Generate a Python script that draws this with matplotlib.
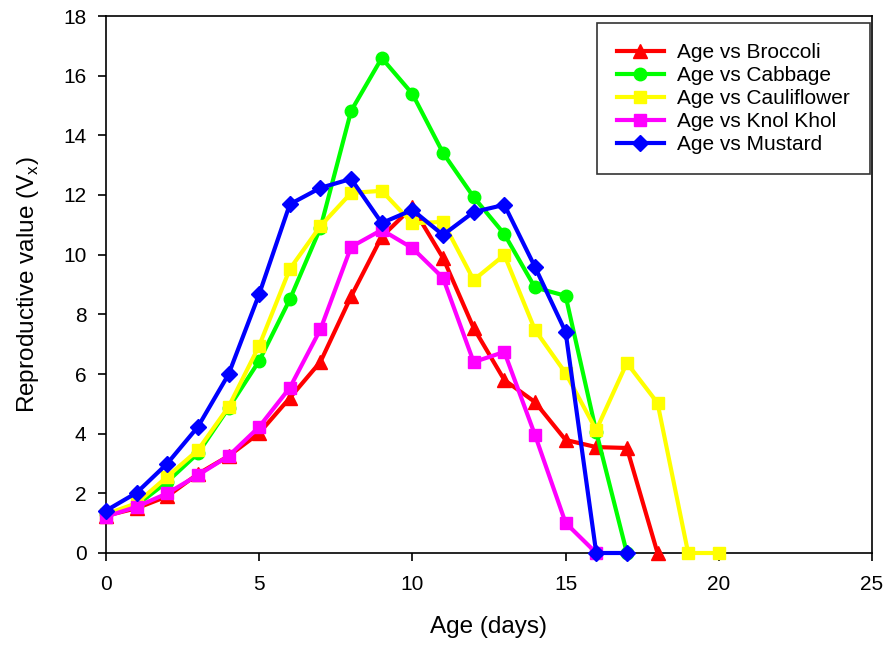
import matplotlib
matplotlib.use("Agg")
import matplotlib.pyplot as plt

plt.rcParams['font.family'] = ['Liberation Sans', 'DejaVu Sans']

age_broccoli = list(range(0, 19))
broccoli = [1.25, 1.5, 1.9, 2.65, 3.25, 4.02, 5.2, 6.41, 8.6, 10.6, 11.6, 9.89, 7.54, 5.8, 5.06, 3.79, 3.55, 3.52, 0.0]

age_cabbage = list(range(0, 18))
cabbage = [1.3, 1.6, 2.39, 3.34, 4.86, 6.44, 8.5, 10.9, 14.82, 16.59, 15.39, 13.41, 11.93, 10.69, 8.9, 8.62, 4.06, 0.0]

age_cauliflower = list(range(0, 21))
cauliflower = [1.3, 1.67, 2.56, 3.45, 4.9, 6.95, 9.52, 10.96, 12.07, 12.14, 11.05, 11.1, 9.15, 9.99, 7.48, 6.03, 4.12, 6.37, 5.03, 0.0, 0.0]

age_knolkhol = list(range(0, 17))
knolkhol = [1.22, 1.55, 2.0, 2.61, 3.25, 4.23, 5.54, 7.5, 10.26, 10.83, 10.22, 9.22, 6.4, 6.74, 3.96, 1.01, 0.0]

age_mustard = list(range(0, 18))
mustard = [1.42, 2.02, 3.0, 4.23, 5.99, 8.68, 11.69, 12.24, 12.54, 11.06, 11.5, 10.66, 11.43, 11.67, 9.59, 7.41, 0.0, 0.0]

labels = ["Age vs Broccoli", "Age vs Cabbage", "Age vs Cauliflower", "Age vs Knol Khol", "Age vs Mustard"]
colors = ["#ff0000", "#00ff00", "#ffff00", "#ff00ff", "#0000ff"]
markers = ["^", "o", "s", "s", "D"]

fig = plt.figure(figsize=(8.9, 6.49), dpi=100)
ax = fig.add_axes([106/890, 1 - 553/649, (872-106)/890, (553-16)/649])

series = [(age_broccoli, broccoli), (age_cabbage, cabbage), (age_cauliflower, cauliflower),
          (age_knolkhol, knolkhol), (age_mustard, mustard)]
for (x, y), lab, c, m in zip(series, labels, colors, markers):
    ms = {"^": 10, "o": 9, "s": 9, "D": 8}[m]
    ax.plot(x, y, color=c, marker=m, markersize=ms, linewidth=3, label=lab,
            markeredgecolor=c, clip_on=False, zorder=3)

ax.set_xlim(0, 25)
ax.set_ylim(0, 18)
ax.set_xticks([0, 5, 10, 15, 20, 25])
ax.set_yticks(range(0, 19, 2))
for s in ['left', 'bottom', 'top', 'right']:
    ax.spines[s].set_linewidth(1.2)
ax.tick_params(direction='out', length=6, width=1.2, labelsize=15, colors='black')
ax.tick_params(axis='y', pad=8)
ax.tick_params(axis='x', pad=10)
ax.set_xlabel("Age (days)", fontsize=17.5, labelpad=16)
ax.set_ylabel("Reproductive value (V$_\\mathregular{x}$)", fontsize=17.5, labelpad=16)

leg = ax.legend(loc='upper right', bbox_to_anchor=((870-106)/766, (553-23)/537), fontsize=15,
                frameon=True, fancybox=False, edgecolor='black', handlelength=2.25,
                borderpad=0.95, labelspacing=0.2, handletextpad=0.65, borderaxespad=0)
leg.get_frame().set_linewidth(1.2)

fig.savefig("out.png", dpi=100)
